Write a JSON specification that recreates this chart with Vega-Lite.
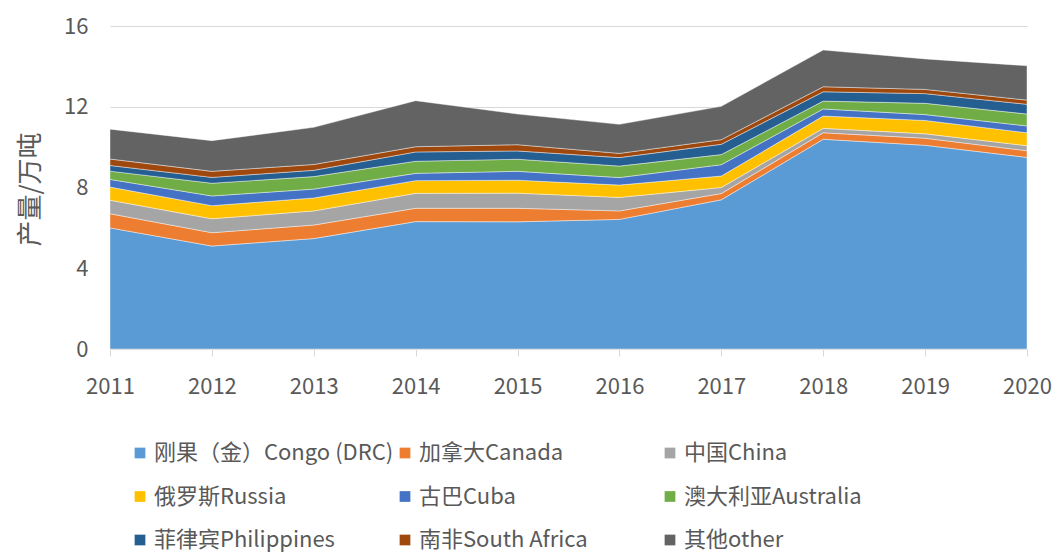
{
  "$schema": "https://vega.github.io/schema/vega-lite/v6.json",
  "width": 917,
  "height": 323,
  "autosize": {"type": "none"},
  "padding": {"left": 110, "top": 26, "right": 26, "bottom": 207},
  "background": "white",
  "config": {
    "font": "Noto Sans CJK SC",
    "view": {"stroke": null}
  },
  "data": {
    "values": [
      {"year": "2011", "country": "刚果（金）Congo (DRC)", "k": 1, "v": 6.0},
      {"year": "2011", "country": "加拿大Canada", "k": 2, "v": 0.7},
      {"year": "2011", "country": "中国China", "k": 3, "v": 0.67},
      {"year": "2011", "country": "俄罗斯Russia", "k": 4, "v": 0.65},
      {"year": "2011", "country": "古巴Cuba", "k": 5, "v": 0.38},
      {"year": "2011", "country": "澳大利亚Australia", "k": 6, "v": 0.41},
      {"year": "2011", "country": "菲律宾Philippines", "k": 7, "v": 0.28},
      {"year": "2011", "country": "南非South Africa", "k": 8, "v": 0.32},
      {"year": "2011", "country": "其他other", "k": 9, "v": 1.48},

      {"year": "2012", "country": "刚果（金）Congo (DRC)", "k": 1, "v": 5.1},
      {"year": "2012", "country": "加拿大Canada", "k": 2, "v": 0.66},
      {"year": "2012", "country": "中国China", "k": 3, "v": 0.69},
      {"year": "2012", "country": "俄罗斯Russia", "k": 4, "v": 0.65},
      {"year": "2012", "country": "古巴Cuba", "k": 5, "v": 0.48},
      {"year": "2012", "country": "澳大利亚Australia", "k": 6, "v": 0.63},
      {"year": "2012", "country": "菲律宾Philippines", "k": 7, "v": 0.29},
      {"year": "2012", "country": "南非South Africa", "k": 8, "v": 0.30},
      {"year": "2012", "country": "其他other", "k": 9, "v": 1.52},

      {"year": "2013", "country": "刚果（金）Congo (DRC)", "k": 1, "v": 5.47},
      {"year": "2013", "country": "加拿大Canada", "k": 2, "v": 0.67},
      {"year": "2013", "country": "中国China", "k": 3, "v": 0.70},
      {"year": "2013", "country": "俄罗斯Russia", "k": 4, "v": 0.64},
      {"year": "2013", "country": "古巴Cuba", "k": 5, "v": 0.44},
      {"year": "2013", "country": "澳大利亚Australia", "k": 6, "v": 0.62},
      {"year": "2013", "country": "菲律宾Philippines", "k": 7, "v": 0.31},
      {"year": "2013", "country": "南非South Africa", "k": 8, "v": 0.29},
      {"year": "2013", "country": "其他other", "k": 9, "v": 1.84},

      {"year": "2014", "country": "刚果（金）Congo (DRC)", "k": 1, "v": 6.31},
      {"year": "2014", "country": "加拿大Canada", "k": 2, "v": 0.66},
      {"year": "2014", "country": "中国China", "k": 3, "v": 0.74},
      {"year": "2014", "country": "俄罗斯Russia", "k": 4, "v": 0.63},
      {"year": "2014", "country": "古巴Cuba", "k": 5, "v": 0.36},
      {"year": "2014", "country": "澳大利亚Australia", "k": 6, "v": 0.60},
      {"year": "2014", "country": "菲律宾Philippines", "k": 7, "v": 0.46},
      {"year": "2014", "country": "南非South Africa", "k": 8, "v": 0.26},
      {"year": "2014", "country": "其他other", "k": 9, "v": 2.28},

      {"year": "2015", "country": "刚果（金）Congo (DRC)", "k": 1, "v": 6.30},
      {"year": "2015", "country": "加拿大Canada", "k": 2, "v": 0.67},
      {"year": "2015", "country": "中国China", "k": 3, "v": 0.75},
      {"year": "2015", "country": "俄罗斯Russia", "k": 4, "v": 0.64},
      {"year": "2015", "country": "古巴Cuba", "k": 5, "v": 0.44},
      {"year": "2015", "country": "澳大利亚Australia", "k": 6, "v": 0.60},
      {"year": "2015", "country": "菲律宾Philippines", "k": 7, "v": 0.41},
      {"year": "2015", "country": "南非South Africa", "k": 8, "v": 0.31},
      {"year": "2015", "country": "其他other", "k": 9, "v": 1.52},

      {"year": "2016", "country": "刚果（金）Congo (DRC)", "k": 1, "v": 6.42},
      {"year": "2016", "country": "加拿大Canada", "k": 2, "v": 0.42},
      {"year": "2016", "country": "中国China", "k": 3, "v": 0.67},
      {"year": "2016", "country": "俄罗斯Russia", "k": 4, "v": 0.61},
      {"year": "2016", "country": "古巴Cuba", "k": 5, "v": 0.37},
      {"year": "2016", "country": "澳大利亚Australia", "k": 6, "v": 0.57},
      {"year": "2016", "country": "菲律宾Philippines", "k": 7, "v": 0.42},
      {"year": "2016", "country": "南非South Africa", "k": 8, "v": 0.21},
      {"year": "2016", "country": "其他other", "k": 9, "v": 1.44},

      {"year": "2017", "country": "刚果（金）Congo (DRC)", "k": 1, "v": 7.39},
      {"year": "2017", "country": "加拿大Canada", "k": 2, "v": 0.31},
      {"year": "2017", "country": "中国China", "k": 3, "v": 0.30},
      {"year": "2017", "country": "俄罗斯Russia", "k": 4, "v": 0.57},
      {"year": "2017", "country": "古巴Cuba", "k": 5, "v": 0.56},
      {"year": "2017", "country": "澳大利亚Australia", "k": 6, "v": 0.50},
      {"year": "2017", "country": "菲律宾Philippines", "k": 7, "v": 0.51},
      {"year": "2017", "country": "南非South Africa", "k": 8, "v": 0.23},
      {"year": "2017", "country": "其他other", "k": 9, "v": 1.65},

      {"year": "2018", "country": "刚果（金）Congo (DRC)", "k": 1, "v": 10.39},
      {"year": "2018", "country": "加拿大Canada", "k": 2, "v": 0.32},
      {"year": "2018", "country": "中国China", "k": 3, "v": 0.22},
      {"year": "2018", "country": "俄罗斯Russia", "k": 4, "v": 0.61},
      {"year": "2018", "country": "古巴Cuba", "k": 5, "v": 0.35},
      {"year": "2018", "country": "澳大利亚Australia", "k": 6, "v": 0.39},
      {"year": "2018", "country": "菲律宾Philippines", "k": 7, "v": 0.46},
      {"year": "2018", "country": "南非South Africa", "k": 8, "v": 0.25},
      {"year": "2018", "country": "其他other", "k": 9, "v": 1.82},

      {"year": "2019", "country": "刚果（金）Congo (DRC)", "k": 1, "v": 10.09},
      {"year": "2019", "country": "加拿大Canada", "k": 2, "v": 0.35},
      {"year": "2019", "country": "中国China", "k": 3, "v": 0.22},
      {"year": "2019", "country": "俄罗斯Russia", "k": 4, "v": 0.66},
      {"year": "2019", "country": "古巴Cuba", "k": 5, "v": 0.29},
      {"year": "2019", "country": "澳大利亚Australia", "k": 6, "v": 0.56},
      {"year": "2019", "country": "菲律宾Philippines", "k": 7, "v": 0.48},
      {"year": "2019", "country": "南非South Africa", "k": 8, "v": 0.21},
      {"year": "2019", "country": "其他other", "k": 9, "v": 1.51},

      {"year": "2020", "country": "刚果（金）Congo (DRC)", "k": 1, "v": 9.49},
      {"year": "2020", "country": "加拿大Canada", "k": 2, "v": 0.33},
      {"year": "2020", "country": "中国China", "k": 3, "v": 0.25},
      {"year": "2020", "country": "俄罗斯Russia", "k": 4, "v": 0.64},
      {"year": "2020", "country": "古巴Cuba", "k": 5, "v": 0.34},
      {"year": "2020", "country": "澳大利亚Australia", "k": 6, "v": 0.59},
      {"year": "2020", "country": "菲律宾Philippines", "k": 7, "v": 0.48},
      {"year": "2020", "country": "南非South Africa", "k": 8, "v": 0.21},
      {"year": "2020", "country": "其他other", "k": 9, "v": 1.70}
    ]
  },
  "mark": {"type": "area", "stroke": "white", "strokeWidth": 0.6, "strokeOpacity": 0.7},
  "encoding": {
    "x": {
      "field": "year",
      "type": "ordinal",
      "scale": {"type": "point", "padding": 0},
      "axis": {
        "title": null,
        "labelAngle": 0,
        "labelFontSize": 22,
        "labelColor": "#595959",
        "labelPadding": 20,
        "domainColor": "#D9D9D9",
        "domainWidth": 1,
        "tickColor": "#D9D9D9",
        "tickSize": 7,
        "grid": false
      }
    },
    "y": {
      "field": "v",
      "type": "quantitative",
      "stack": "zero",
      "scale": {"domain": [0, 16], "nice": false},
      "axis": {
        "title": "产量/万吨",
        "titleFontSize": 26,
        "titleFontWeight": "normal",
        "titleColor": "#595959",
        "titleX": -80,
        "titleY": 163,
        "titleAlign": "center",
        "titleBaseline": "middle",
        "titleAngle": -90,
        "values": [0, 4, 8, 12, 16],
        "labelFontSize": 22,
        "labelColor": "#595959",
        "labelPadding": 22,
        "domain": false,
        "ticks": false,
        "gridColor": "#D9D9D9",
        "gridWidth": 1
      }
    },
    "color": {
      "field": "country",
      "type": "nominal",
      "scale": {
        "domain": ["刚果（金）Congo (DRC)", "加拿大Canada", "中国China", "俄罗斯Russia", "古巴Cuba", "澳大利亚Australia", "菲律宾Philippines", "南非South Africa", "其他other"],
        "range": ["#5B9BD5", "#ED7D31", "#A5A5A5", "#FFC000", "#4472C4", "#70AD47", "#255E91", "#9E480E", "#636363"]
      },
      "legend": {
        "title": null,
        "orient": "none",
        "legendX": 19,
        "legendY": 416,
        "direction": "horizontal",
        "columns": 3,
        "gridAlign": "all",
        "columnPadding": 0,
        "rowPadding": 21.5,
        "symbolType": "square",
        "symbolSize": 115,
        "symbolStrokeWidth": 0,
        "labelFontSize": 22,
        "labelColor": "#595959",
        "labelOffset": 3,
        "labelLimit": 400,
        "padding": 0
      }
    },
    "order": {"field": "k", "type": "quantitative", "sort": "ascending"}
  }
}
